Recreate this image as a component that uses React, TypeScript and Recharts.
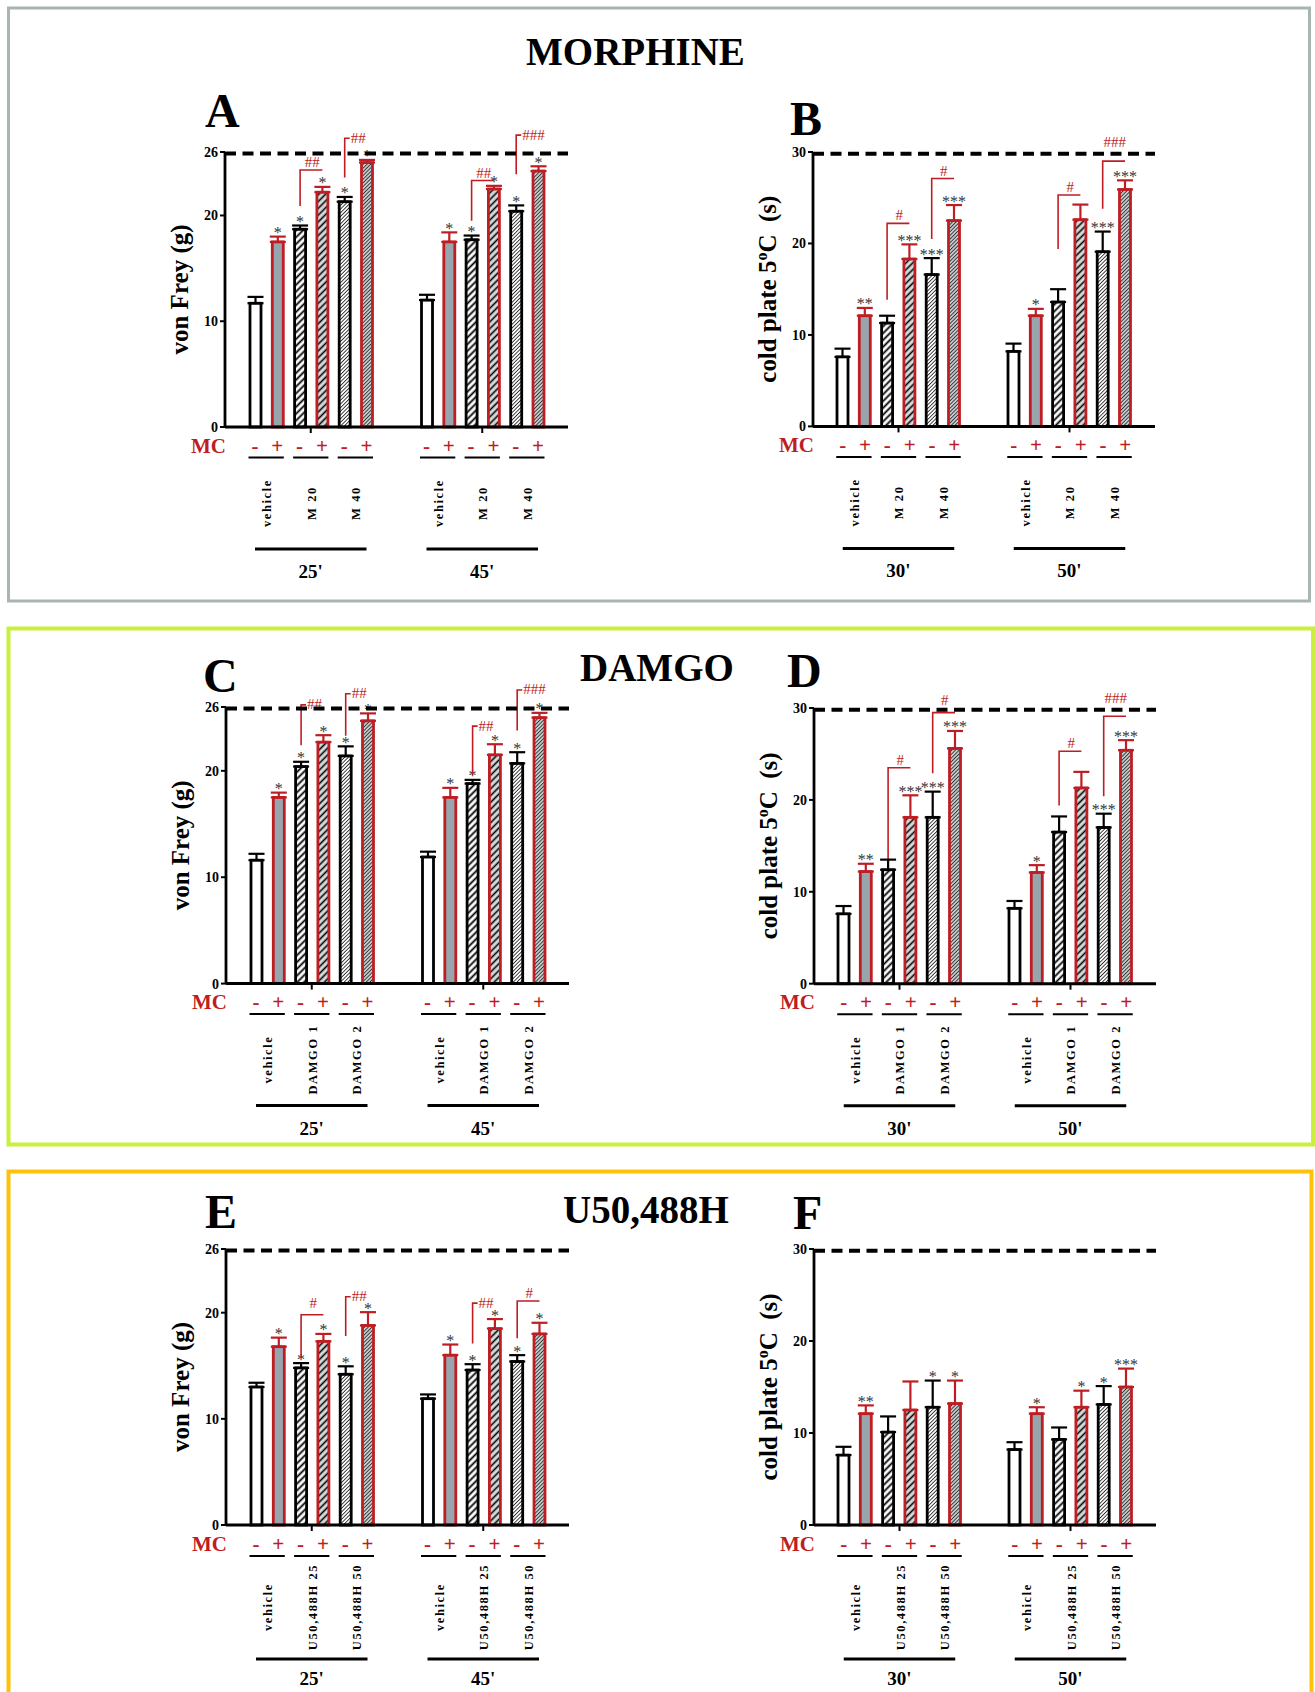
import React from 'react';
import { BarChart, Bar, XAxis, YAxis, ErrorBar, ReferenceLine } from 'recharts';

const SERIF = "'Liberation Serif', 'Times New Roman', Times, serif";
const RED = '#be1e23';
const BAR = 11;
const GAP = 11.3;
const STEP = BAR + GAP;

// time points (x categories)
const vonFreyTimes = ["25'", "45'"];
const coldPlateTimes = ["30'", "50'"];

// treatment under each pair of bars
const morphineGroups = ['vehicle', 'M 20', 'M 40'];
const damgoGroups = ['vehicle', 'DAMGO 1', 'DAMGO 2'];
const u50Groups = ['vehicle', 'U50,488H 25', 'U50,488H 50'];

// MC sign of the six bars in a time point
const mcSigns = ['-', '+', '-', '+', '-', '+'];

const vonFreyTicks = [0, 10, 20, 26];
const coldPlateTicks = [0, 10, 20, 30];
const vonFreyCutoff = 25.85;
const coldPlateCutoff = 29.8;

type Bracket = { t: number; bar: number; mark: string; lo: number; hi: number; txt?: number; stub?: boolean };

// A - morphine, von Frey
const meansA = [
  [11.7, 17.5, 18.7, 22.2, 21.3, 25.0],
  [12.0, 17.5, 17.7, 22.5, 20.4, 24.2],
];
const semA = [
  [0.6, 0.5, 0.35, 0.5, 0.45, 0.25],
  [0.5, 0.9, 0.4, 0.3, 0.55, 0.45],
];
const starsA = [
  ['', '*', '*', '*', '*', '*'],
  ['', '*', '*', '*', '*', '*'],
];
const hashA: Bracket[] = [
  { t: 0, bar: 3, mark: '##', lo: 20.9, hi: 24.3 },
  { t: 0, bar: 5, mark: '##', lo: 23.6, hi: 27.3, stub: true },
  { t: 1, bar: 3, mark: '##', lo: 19.5, hi: 23.3 },
  { t: 1, bar: 5, mark: '###', lo: 23.9, hi: 27.6, stub: true },
];

// B - morphine, cold plate
const meansB = [
  [7.6, 12.1, 11.3, 18.3, 16.6, 22.5],
  [8.2, 12.1, 13.6, 22.6, 19.1, 25.9],
];
const semB = [
  [0.9, 0.85, 0.8, 1.6, 1.8, 1.7],
  [0.85, 0.75, 1.4, 1.65, 2.2, 1.0],
];
const starsB = [
  ['', '**', '', '***', '***', '***'],
  ['', '*', '', '', '***', '***'],
];
const hashB: Bracket[] = [
  { t: 0, bar: 3, mark: '#', lo: 13.85, hi: 22.2 },
  { t: 0, bar: 5, mark: '#', lo: 20.5, hi: 27.1 },
  { t: 1, bar: 3, mark: '#', lo: 19.4, hi: 25.3 },
  { t: 1, bar: 5, mark: '###', lo: 23.8, hi: 29.0, txt: 30.6 },
];

// C - DAMGO, von Frey
const meansC = [
  [11.6, 17.5, 20.4, 22.7, 21.4, 24.7],
  [11.9, 17.5, 18.8, 21.5, 20.7, 25.0],
];
const semC = [
  [0.6, 0.45, 0.45, 0.65, 0.9, 0.7],
  [0.5, 0.9, 0.35, 1.0, 1.05, 0.45],
];
const starsC = [
  ['', '*', '*', '*', '*', '*'],
  ['', '*', '*', '*', '*', '*'],
];
const hashC: Bracket[] = [
  { t: 0, bar: 3, mark: '##', lo: 22.4, hi: 26.2, stub: true },
  { t: 0, bar: 5, mark: '##', lo: 23.3, hi: 27.25, stub: true },
  { t: 1, bar: 3, mark: '##', lo: 19.6, hi: 24.2, stub: true },
  { t: 1, bar: 5, mark: '###', lo: 23.8, hi: 27.6, stub: true },
];

// D - DAMGO, cold plate
const meansD = [
  [7.6, 12.2, 12.4, 18.1, 18.1, 25.6],
  [8.2, 12.1, 16.5, 21.3, 17.0, 25.4],
];
const semD = [
  [0.85, 0.85, 1.1, 2.4, 2.8, 1.9],
  [0.8, 0.8, 1.7, 1.75, 1.5, 1.1],
];
const starsD = [
  ['', '**', '', '***', '***', '***'],
  ['', '*', '', '', '***', '***'],
];
const hashD: Bracket[] = [
  { t: 0, bar: 3, mark: '#', lo: 13.2, hi: 23.5 },
  { t: 0, bar: 5, mark: '#', lo: 22.9, hi: 29.5, txt: 30.3 },
  { t: 1, bar: 3, mark: '#', lo: 19.4, hi: 25.3 },
  { t: 1, bar: 5, mark: '###', lo: 20.4, hi: 29.1, txt: 30.5 },
];

// E - U50,488H, von Frey
const meansE = [
  [13.0, 16.8, 14.8, 17.3, 14.2, 18.8],
  [11.9, 16.0, 14.6, 18.5, 15.4, 18.0],
];
const semE = [
  [0.4, 0.85, 0.45, 0.7, 0.75, 1.25],
  [0.4, 1.0, 0.55, 0.9, 0.6, 1.05],
];
const starsE = [
  ['', '*', '*', '*', '*', '*'],
  ['', '*', '*', '*', '*', '*'],
];
const hashE: Bracket[] = [
  { t: 0, bar: 3, mark: '#', lo: 15.7, hi: 19.8, txt: 20.4 },
  { t: 0, bar: 5, mark: '##', lo: 17.8, hi: 21.5, stub: true },
  { t: 1, bar: 3, mark: '##', lo: 17.1, hi: 20.9, stub: true },
  { t: 1, bar: 5, mark: '#', lo: 17.6, hi: 21.1 },
];

// F - U50,488H, cold plate
const meansF = [
  [7.6, 12.1, 10.1, 12.5, 12.8, 13.2],
  [8.2, 12.1, 9.3, 12.8, 13.1, 15.0],
];
const semF = [
  [0.9, 0.9, 1.7, 3.1, 2.9, 2.5],
  [0.8, 0.7, 1.3, 1.8, 2.0, 2.0],
];
const starsF = [
  ['', '**', '', '', '*', '*'],
  ['', '*', '', '*', '*', '***'],
];
const hashF: Bracket[] = [];

const seriesStyle = [
  { fill: '#ffffff', stroke: '#000' },
  { fill: '#98a5ac', stroke: RED },
  { fill: 'url(#hatchWide)', stroke: '#000' },
  { fill: 'url(#hatchWideGrey)', stroke: RED },
  { fill: 'url(#hatchFine)', stroke: '#000' },
  { fill: 'url(#hatchFineGrey)', stroke: RED },
];

const ROW_HIGH = { sign: 25.5, under: 30.5, label: 76, long: 122, time: 151 };
const ROW_LOW = { sign: 25.5, under: 31, label: 82, long: 134, time: 160 };

const makeShape = (s: number, means: number[][], sems: number[][], stars: string[][], hashes: Bracket[], times: string[]) =>
  (props: any) => {
    const { x, y, width, height } = props;
    if (width == null || height == null) return <g />;
    const i = typeof props.index === 'number' ? props.index : times.indexOf(props.payload?.time);
    const st = seriesStyle[s];
    const v = means[i][s];
    const k = v ? height / v : 0;
    const base = y + height;
    const py = (val: number) => base - val * k;
    const cx = x + width / 2;
    const errTop = py(v + sems[i][s]);
    const star = stars[i][s];
    const br = hashes.find((h) => h.t === i && h.bar === s);
    let bracket = null;
    if (br) {
      const xL = cx - STEP;
      const yLo = py(br.lo);
      const yHi = py(br.hi);
      if (br.stub) {
        bracket = (
          <g>
            <path d={`M${xL},${yLo}V${yHi}H${xL + 5}`} fill="none" stroke={RED} strokeWidth={1.6} />
            <text x={xL + 6} y={yHi + 4.5} fontSize={15} fill={RED} fontFamily={SERIF}>{br.mark}</text>
          </g>
        );
      } else {
        const xR = cx;
        bracket = (
          <g>
            <path d={`M${xL},${yLo}V${yHi}H${xR}`} fill="none" stroke={RED} strokeWidth={1.6} />
            <text x={(xL + xR) / 2 + 1} y={br.txt != null ? py(br.txt) : yHi - 3} textAnchor="middle" fontSize={15} fill={RED} fontFamily={SERIF}>
              {br.mark}
            </text>
          </g>
        );
      }
    }
    return (
      <g>
        <rect x={x} y={y} width={width} height={height} fill={st.fill} stroke={st.stroke} strokeWidth={2.8} />
        {star ? (
          <text x={cx} y={errTop + 1.5} textAnchor="middle" fontSize={16} fill="#333" fontFamily={SERIF}>{star}</text>
        ) : null}
        {bracket}
      </g>
    );
  };

const renderGroupTick = (tp: any, groups: string[], lay: typeof ROW_HIGH, band: number) => {
  const cx = tp.x;
  const ay = tp.y - 6;
  const idx = tp.index ?? 0;
  const barX = (k: number) => cx + (k - 2.5) * STEP;
  return (
    <g fontFamily={SERIF}>
      {idx === 0 ? (
        <text x={cx - band / 2 + 1} y={ay + lay.sign} textAnchor="end" fontSize={21} fontWeight={700} fill={RED}>MC</text>
      ) : null}
      {mcSigns.map((m, k) => (
        <text key={'m' + k} x={barX(k)} y={ay + lay.sign} textAnchor="middle" fontSize={21} fontWeight={700} fill={RED}>{m}</text>
      ))}
      {groups.map((g, j) => {
        const a = barX(2 * j) - BAR / 2 - 1;
        const b = barX(2 * j + 1) + BAR / 2 + 1;
        const mx = (a + b) / 2 + 1;
        const my = ay + lay.label;
        return (
          <g key={'g' + j}>
            <line x1={a} x2={b} y1={ay + lay.under} y2={ay + lay.under} stroke="#000" strokeWidth={2} />
            <text x={mx} y={my} transform={`rotate(-90 ${mx} ${my})`} textAnchor="middle" dominantBaseline="central"
              fontSize={12.5} fontWeight={700} letterSpacing={1.6} fill="#000">{g}</text>
          </g>
        );
      })}
      <line x1={barX(0)} x2={barX(5)} y1={ay + lay.long} y2={ay + lay.long} stroke="#000" strokeWidth={3} />
      <text x={cx} y={ay + lay.time} textAnchor="middle" fontSize={19} fontWeight={700} fill="#000">{tp.payload?.value}</text>
    </g>
  );
};

const renderYLabel = (lp: any, kind: 'vf' | 'cp', plotH: number) => {
  const vb = lp?.viewBox && lp.viewBox.height ? lp.viewBox : { x: 0, y: 45, width: 60, height: plotH };
  const lx = vb.x + vb.width - 37;
  const ly = vb.y + vb.height / 2;
  return (
    <text x={lx} y={ly} transform={`rotate(-90 ${lx} ${ly})`} textAnchor="middle" fontSize={25} fontWeight={700}
      fontFamily={SERIF} fill="#000" style={{ whiteSpace: 'pre' }}>
      {kind === 'vf' ? (
        'von Frey (g)'
      ) : (
        <>
          <tspan>cold plate 5</tspan>
          <tspan dy={-9} fontSize={16}>o</tspan>
          <tspan dy={9}>{'C  (s)'}</tspan>
        </>
      )}
    </text>
  );
};

type PanelProps = {
  means: number[][]; sems: number[][]; stars: string[][]; hashes: Bracket[];
  times: string[]; groups: string[]; kind: 'vf' | 'cp';
  left: number; top: number; plotW: number; plotH: number; low?: boolean;
};

const Panel = (p: PanelProps) => {
  const ticks = p.kind === 'vf' ? vonFreyTicks : coldPlateTicks;
  const cutoff = p.kind === 'vf' ? vonFreyCutoff : coldPlateCutoff;
  const data = p.times.map((t, i) => {
    const row: any = { time: t };
    p.means[i].forEach((v, s) => {
      row['s' + s] = v;
      row['e' + s] = [0, p.sems[i][s]];
    });
    return row;
  });
  const lay = p.low ? ROW_LOW : ROW_HIGH;
  const band = p.plotW / 2;
  return (
    <div style={{ position: 'absolute', left: p.left - 60, top: p.top - 45 }}>
      <BarChart width={60 + p.plotW + 12} height={45 + p.plotH + 175} data={data}
        margin={{ top: 45, right: 12, bottom: 5, left: 0 }} barGap={GAP}>
        <XAxis dataKey="time" height={170} interval={0} tickSize={6} tickMargin={0}
          tickLine={{ stroke: '#000', strokeWidth: 2 }} axisLine={{ stroke: '#000', strokeWidth: 3 }}
          tick={(tp: any) => renderGroupTick(tp, p.groups, lay, band)} />
        <YAxis type="number" domain={[0, ticks[ticks.length - 1]]} ticks={ticks} interval={0} width={60}
          tickSize={5} tickMargin={2} tickLine={{ stroke: '#000', strokeWidth: 2 }}
          axisLine={{ stroke: '#000', strokeWidth: 2.8 }}
          tick={{ fontSize: 14, fontWeight: 700, fill: '#000', fontFamily: SERIF }}
          label={(lp: any) => renderYLabel(lp, p.kind, p.plotH)} />
        <ReferenceLine y={cutoff} stroke="#000" strokeWidth={4} strokeDasharray="11 6.5" />
        {seriesStyle.map((st, s) => (
          <Bar key={s} dataKey={'s' + s} barSize={BAR} fill={st.fill} stroke={st.stroke} strokeWidth={2.8}
            isAnimationActive={false}
            shape={makeShape(s, p.means, p.sems, p.stars, p.hashes, p.times)}>
            <ErrorBar dataKey={'e' + s} direction="y" width={8} strokeWidth={2.2} stroke={st.stroke} isAnimationActive={false} />
          </Bar>
        ))}
      </BarChart>
    </div>
  );
};

export default function App() {
  const title = { fontSize: 39, fontWeight: 700, fontFamily: SERIF, fill: '#000' } as const;
  const letter = { fontSize: 48, fontWeight: 700, fontFamily: SERIF, fill: '#000' } as const;
  return (
    <div style={{ position: 'absolute', left: 0, top: 0, width: 1315, height: 1692, background: '#fff', overflow: 'hidden', fontFamily: SERIF }}>
      <svg width={1315} height={1692} style={{ position: 'absolute', left: 0, top: 0 }}>
        <defs>
          <pattern id="hatchWide" patternUnits="userSpaceOnUse" width={4.8} height={4.8} patternTransform="rotate(45)">
            <rect width={4.8} height={4.8} fill="#fff" />
            <line x1={2.4} y1={0} x2={2.4} y2={4.8} stroke="#000" strokeWidth={1.8} />
          </pattern>
          <pattern id="hatchWideGrey" patternUnits="userSpaceOnUse" width={4.8} height={4.8} patternTransform="rotate(45)">
            <rect width={4.8} height={4.8} fill="#d8dcdc" />
            <line x1={2.4} y1={0} x2={2.4} y2={4.8} stroke="#000" strokeWidth={1.6} />
          </pattern>
          <pattern id="hatchFine" patternUnits="userSpaceOnUse" width={2.6} height={2.6} patternTransform="rotate(45)">
            <rect width={2.6} height={2.6} fill="#fff" />
            <line x1={1.3} y1={0} x2={1.3} y2={2.6} stroke="#111" strokeWidth={0.8} />
          </pattern>
          <pattern id="hatchFineGrey" patternUnits="userSpaceOnUse" width={2.6} height={2.6} patternTransform="rotate(45)">
            <rect width={2.6} height={2.6} fill="#c6caca" />
            <line x1={1.3} y1={0} x2={1.3} y2={2.6} stroke="#222" strokeWidth={0.8} />
          </pattern>
        </defs>
        <rect x={8.5} y={8} width={1301} height={593} fill="none" stroke="#a8b6b3" strokeWidth={3} />
        <rect x={8.5} y={628.5} width={1304.5} height={516} fill="none" stroke="#c8f03c" strokeWidth={4} />
        <rect x={8.5} y={1171.5} width={1303} height={560} fill="none" stroke="#ffc20a" strokeWidth={4} />
        <text x={526} y={65} style={title}>MORPHINE</text>
        <text x={580} y={681} style={title}>DAMGO</text>
        <text x={563} y={1223} style={title}>U50,488H</text>
        <text x={205} y={127} style={letter}>A</text>
        <text x={790} y={135} style={letter}>B</text>
        <text x={203} y={692} style={letter}>C</text>
        <text x={787} y={687} style={letter}>D</text>
        <text x={205} y={1228} style={letter}>E</text>
        <text x={793} y={1229} style={letter}>F</text>
      </svg>
      <Panel means={meansA} sems={semA} stars={starsA} hashes={hashA} times={vonFreyTimes} groups={morphineGroups}
        kind="vf" left={225} top={151.7} plotW={343} plotH={275} />
      <Panel means={meansB} sems={semB} stars={starsB} hashes={hashB} times={coldPlateTimes} groups={morphineGroups}
        kind="cp" left={813.3} top={152.3} plotW={342} plotH={274.4} />
      <Panel means={meansC} sems={semC} stars={starsC} hashes={hashC} times={vonFreyTimes} groups={damgoGroups}
        kind="vf" left={226} top={706.7} plotW={343} plotH={276.6} />
      <Panel means={meansD} sems={semD} stars={starsD} hashes={hashD} times={coldPlateTimes} groups={damgoGroups}
        kind="cp" left={813.5} top={707.5} plotW={342} plotH={275.7} />
      <Panel means={meansE} sems={semE} stars={starsE} hashes={hashE} times={vonFreyTimes} groups={u50Groups}
        kind="vf" left={226} top={1249} plotW={343} plotH={276} low />
      <Panel means={meansF} sems={semF} stars={starsF} hashes={hashF} times={coldPlateTimes} groups={u50Groups}
        kind="cp" left={813.5} top={1249} plotW={342} plotH={276} low />
    </div>
  );
}
